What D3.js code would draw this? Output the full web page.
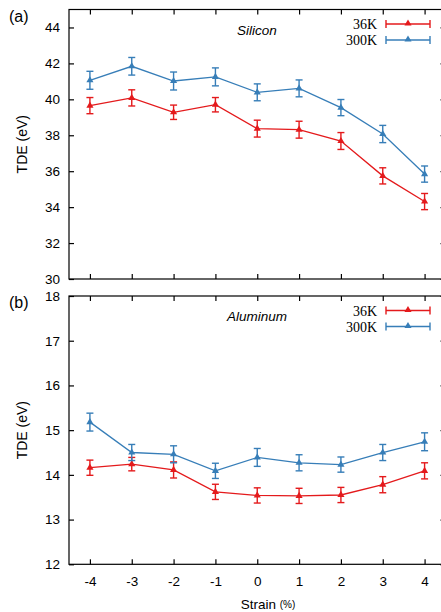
<!DOCTYPE html>
<html>
<head>
<meta charset="utf-8">
<script src="https://d3js.org/d3.v7.min.js"></script>
<style>
  body { margin: 0; background: #fff; }
  svg { display: block; }
  .axis text { font-family: "Liberation Sans", Arial, sans-serif; font-size: 13.5px; fill: #000; }
  .axis path, .axis line { stroke: #000; stroke-width: 1.2; }
  .leg { font-family: "Liberation Serif", "Times New Roman", serif; font-size: 14px; }
</style>
</head>
<body>
<div id="chart"></div>
<script>
var strain = [-4, -3, -2, -1, 0, 1, 2, 3, 4];

// Silicon
var si36 = [39.65, 40.08, 39.28, 39.70, 38.37, 38.31, 37.68, 35.74, 34.31];
var si36Err = [0.45, 0.45, 0.40, 0.40, 0.47, 0.47, 0.47, 0.45, 0.45];
var si300 = [41.06, 41.84, 41.02, 41.25, 40.39, 40.61, 39.54, 38.07, 35.84];
var si300Err = [0.50, 0.49, 0.50, 0.50, 0.47, 0.47, 0.45, 0.48, 0.45];

// Aluminum
var al36 = [14.16, 14.24, 14.11, 13.62, 13.54, 13.53, 13.55, 13.78, 14.09];
var al36Err = [0.17, 0.15, 0.18, 0.17, 0.17, 0.17, 0.17, 0.18, 0.18];
var al300 = [15.18, 14.50, 14.46, 14.09, 14.39, 14.27, 14.23, 14.50, 14.74];
var al300Err = [0.20, 0.18, 0.19, 0.17, 0.20, 0.18, 0.17, 0.18, 0.20];

var siTicks = [30, 32, 34, 36, 38, 40, 42, 44];
var alTicks = [12, 13, 14, 15, 16, 17, 18];

var red = "#e41a1c", blue = "#377eb8";

var W = 441, H = 612;
var svg = d3.select("#chart").append("svg")
    .attr("width", W)
    .attr("height", H);

var x = d3.scaleLinear().domain([-4.5, 4.5]).range([69, 445.5]);
var plain = function (d) { return String(d); };

function panel(opts) {
    var y = d3.scaleLinear().domain(opts.domain).range([opts.bottom, opts.top]);
    var g = svg.append("g");

    // frame
    g.append("rect")
        .attr("x", x.range()[0]).attr("y", opts.top)
        .attr("width", x.range()[1] - x.range()[0])
        .attr("height", opts.bottom - opts.top)
        .attr("fill", "none").attr("stroke", "#000").attr("stroke-width", 1.2);

    var yAx = g.append("g").attr("class", "axis")
        .attr("transform", "translate(" + x.range()[0] + ",0)")
        .call(d3.axisLeft(y).tickValues(opts.ticks).tickSizeInner(-5).tickSizeOuter(0)
            .tickPadding(9).tickFormat(plain));
    yAx.select(".domain").remove();

    var yAxR = g.append("g").attr("class", "axis")
        .attr("transform", "translate(" + x.range()[1] + ",0)")
        .call(d3.axisRight(y).tickValues(opts.ticks).tickSizeInner(-5).tickSizeOuter(0).tickFormat(""));
    yAxR.select(".domain").remove();

    var xAx = g.append("g").attr("class", "axis")
        .attr("transform", "translate(0," + opts.bottom + ")")
        .call(d3.axisBottom(x).tickValues(strain).tickSizeInner(-5).tickSizeOuter(0)
            .tickPadding(12).tickFormat(opts.xlabels ? plain : ""));
    xAx.select(".domain").remove();

    var xAxT = g.append("g").attr("class", "axis")
        .attr("transform", "translate(0," + opts.top + ")")
        .call(d3.axisTop(x).tickValues(strain).tickSizeInner(-5).tickSizeOuter(0).tickFormat(""));
    xAxT.select(".domain").remove();

    var tri = d3.symbol().type(d3.symbolTriangle).size(22);

    opts.series.forEach(function (s) {
        var pts = strain.map(function (v, i) { return { x: v, y: s.values[i], e: s.err[i] }; });
        var line = d3.line()
            .x(function (d) { return x(d.x); })
            .y(function (d) { return y(d.y); });

        g.append("path").datum(pts)
            .attr("fill", "none").attr("stroke", s.color).attr("stroke-width", 1.3)
            .attr("d", line);

        var eb = g.append("g").selectAll("g").data(pts).enter().append("g")
            .attr("stroke", s.color).attr("stroke-width", 1.4);
        eb.append("line")
            .attr("x1", function (d) { return x(d.x); })
            .attr("x2", function (d) { return x(d.x); })
            .attr("y1", function (d) { return y(d.y - d.e); })
            .attr("y2", function (d) { return y(d.y + d.e); });
        [-1, 1].forEach(function (sg) {
            eb.append("line")
                .attr("x1", function (d) { return x(d.x) - 3.5; })
                .attr("x2", function (d) { return x(d.x) + 3.5; })
                .attr("y1", function (d) { return y(d.y + sg * d.e); })
                .attr("y2", function (d) { return y(d.y + sg * d.e); });
        });

        g.append("g").selectAll("path").data(pts).enter().append("path")
            .attr("d", tri)
            .attr("fill", s.color)
            .attr("transform", function (d) { return "translate(" + x(d.x) + "," + y(d.y) + ")"; });
    });

    // legend
    opts.series.forEach(function (s, i) {
        var ly = opts.top + 14.5 + i * 16;
        g.append("text").attr("class", "leg")
            .attr("x", 377).attr("y", ly + 5)
            .attr("text-anchor", "end")
            .text(s.name);
        var lg = g.append("g").attr("stroke", s.color).attr("stroke-width", 1.4);
        lg.append("line").attr("x1", 386).attr("x2", 430).attr("y1", ly).attr("y2", ly);
        lg.append("line").attr("x1", 386).attr("x2", 386).attr("y1", ly - 4).attr("y2", ly + 4);
        lg.append("line").attr("x1", 430).attr("x2", 430).attr("y1", ly - 4).attr("y2", ly + 4);
        g.append("path").attr("d", tri).attr("fill", s.color)
            .attr("transform", "translate(408," + (ly - 0.5) + ")");
    });

    // material name
    g.append("text")
        .attr("x", opts.nameX).attr("y", opts.top + 25)
        .attr("font-family", "Liberation Sans, Arial, sans-serif")
        .attr("font-style", "italic").attr("font-size", "13.5px")
        .text(opts.name);

    // panel letter
    g.append("text")
        .attr("x", 9).attr("y", opts.top + 12)
        .attr("font-family", "Liberation Sans, Arial, sans-serif")
        .attr("font-size", "16px")
        .text(opts.letter);

    // y label
    g.append("text")
        .attr("transform", "translate(27," + ((opts.top + opts.bottom) / 2) + ") rotate(-90)")
        .attr("text-anchor", "middle")
        .attr("font-family", "Liberation Sans, Arial, sans-serif")
        .attr("font-size", "14px")
        .text("TDE (eV)");
}

panel({
    top: 9.5, bottom: 279, domain: [30, 45], ticks: siTicks,
    name: "Silicon", nameX: 237, letter: "(a)", xlabels: false,
    series: [
        { name: "36K", values: si36, err: si36Err, color: red },
        { name: "300K", values: si300, err: si300Err, color: blue }
    ]
});

panel({
    top: 296, bottom: 564.3, domain: [12, 18], ticks: alTicks,
    name: "Aluminum", nameX: 227, letter: "(b)", xlabels: true,
    series: [
        { name: "36K", values: al36, err: al36Err, color: red },
        { name: "300K", values: al300, err: al300Err, color: blue }
    ]
});

// x label
var xl = svg.append("text")
    .attr("x", 268).attr("y", 609)
    .attr("text-anchor", "middle")
    .attr("font-family", "Liberation Sans, Arial, sans-serif")
    .attr("font-size", "13.5px");
xl.append("tspan").text("Strain ");
xl.append("tspan").attr("font-size", "10px").attr("dy", "-1").text("(%)");
</script>
</body>
</html>
